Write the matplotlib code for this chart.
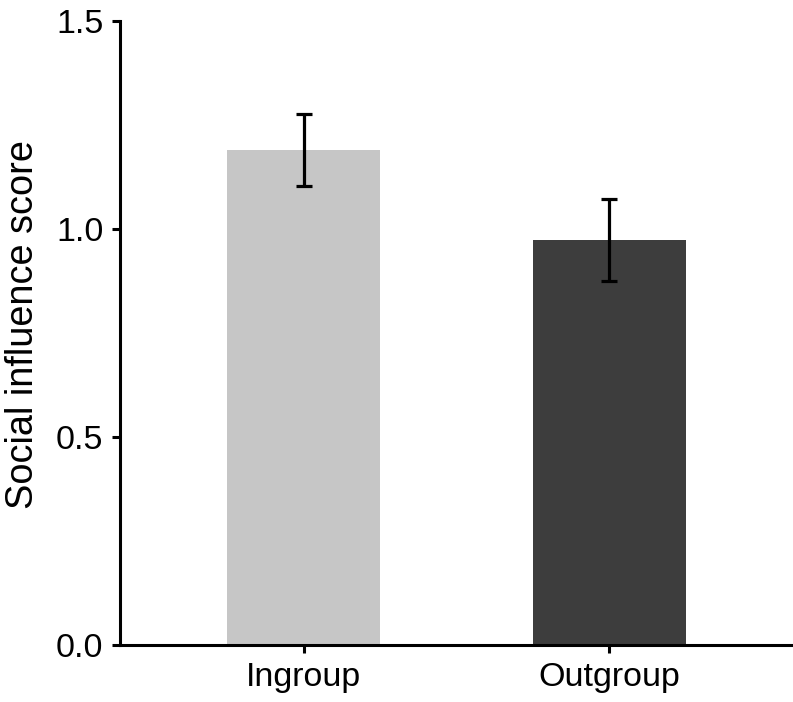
import matplotlib
matplotlib.use("Agg")
import matplotlib.pyplot as plt

categories = ["Ingroup", "Outgroup"]
means = [1.19, 0.974]
errors = [0.087, 0.099]
colors = ["#c6c6c6", "#3d3d3d"]
yticks = [0.0, 0.5, 1.0, 1.5]

plt.rcParams['font.family'] = ['Liberation Sans', 'DejaVu Sans']
fig = plt.figure(figsize=(7.93, 7.02), dpi=100)
ax = fig.add_axes([120/793, 57/702, 673/793, 624/702])
x = list(range(len(categories)))
ax.bar(x, means, width=0.5, color=colors, zorder=1)
ax.errorbar(x, means, yerr=errors, fmt='none', ecolor='black',
            elinewidth=2.3, capsize=6, capthick=2.3, zorder=2)
ax.set_xlim(-0.6, 1.6)
ax.set_ylim(0, 1.5)
ax.set_yticks(yticks)
ax.set_yticklabels([f"{v:.1f}" for v in yticks])
ax.set_xticks(x)
ax.set_xticklabels(categories)
ax.spines['top'].set_visible(False)
ax.spines['right'].set_visible(False)
for s in ['left', 'bottom']:
    ax.spines[s].set_linewidth(2.2)
ax.tick_params(axis='both', labelsize=24.5, width=2.2, length=6, direction='out', pad=6)
ax.set_ylabel("Social influence score", fontsize=27.3)
ax.yaxis.set_label_coords(-0.117, 0.513)
fig.savefig("out.png", dpi=100)
